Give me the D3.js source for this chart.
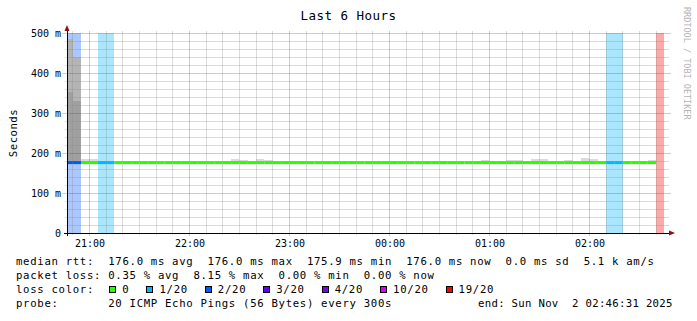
<!DOCTYPE html>
<html>
<head>
<meta charset="utf-8">
<script src="https://cdn.jsdelivr.net/npm/d3@7"></script>
<style>
  body { margin: 0; background: #fff; }
  svg { display: block; }
  text { font-family: "DejaVu Sans Mono", monospace; white-space: pre; }
</style>
</head>
<body>
<div id="chart"></div>
<script>

/*****************************************/
/*   DATA */
/*****************************************/

// 5 minute steps, start time of each step
let stepStarts = [
    "20:45", "20:50", "20:55",
    "21:00", "21:05", "21:10", "21:15", "21:20", "21:25", "21:30", "21:35", "21:40", "21:45", "21:50", "21:55",
    "22:00", "22:05", "22:10", "22:15", "22:20", "22:25", "22:30", "22:35", "22:40", "22:45", "22:50", "22:55",
    "23:00", "23:05", "23:10", "23:15", "23:20", "23:25", "23:30", "23:35", "23:40", "23:45", "23:50", "23:55",
    "00:00", "00:05", "00:10", "00:15", "00:20", "00:25", "00:30", "00:35", "00:40", "00:45", "00:50", "00:55",
    "01:00", "01:05", "01:10", "01:15", "01:20", "01:25", "01:30", "01:35", "01:40", "01:45", "01:50", "01:55",
    "02:00", "02:05", "02:10", "02:15", "02:20", "02:25", "02:30", "02:35", "02:40"
];

// median rtt (ms)
let medianMs = [
    176.0, 176.0, 176.0,
    176.0, 176.0, 176.0, 176.0, 176.0, 176.0, 176.0, 176.0, 176.0, 176.0, 176.0, 176.0,
    176.0, 176.0, 176.0, 176.0, 176.0, 176.0, 176.0, 176.0, 176.0, 176.0, 176.0, 176.0,
    176.0, 176.0, 176.0, 176.0, 176.0, 176.0, 176.0, 176.0, 176.0, 176.0, 176.0, 176.0,
    176.0, 176.0, 176.0, 176.0, 176.0, 176.0, 176.0, 176.0, 176.0, 176.0, 176.0, 176.0,
    176.0, 176.0, 176.0, 176.0, 176.0, 176.0, 176.0, 176.0, 176.0, 176.0, 176.0, 176.0,
    176.0, 176.0, 176.0, 176.0, 176.0, 176.0, 176.0, 176.0, null
];

// lost pings out of 20
let lossCount = [
    2, 2, 0,
    0, 1, 1, 0, 0, 0, 0, 0, 0, 0, 0, 0,
    0, 0, 0, 0, 0, 0, 0, 0, 0, 0, 0, 0,
    0, 0, 0, 0, 0, 0, 0, 0, 0, 0, 0, 0,
    0, 0, 0, 0, 0, 0, 0, 0, 0, 0, 0, 0,
    0, 0, 0, 0, 0, 0, 0, 0, 0, 0, 0, 0,
    0, 0, 1, 1, 0, 0, 0, 0, 19
];

// smoke: highest ping of the step (ms)
let smokeMaxMs = [
    485, 441, 186,
    184, 176, 176, 176, 176, 176, 176, 176, 176, 176, 176, 176,
    176, 176, 176, 176, 176, 185, 182.5, 176, 185, 182.5, 176, 176,
    176, 176, 176, 176, 176, 176, 176, 176, 176, 176, 176, 176,
    176, 176, 176, 176, 176, 176, 176, 176, 176, 176, 176, 182.5,
    176, 176, 182, 183, 176, 185, 184, 176, 176, 182.5, 176, 188,
    185, 176, 176, 176, 176, 176, 176, 182, null
];

// smoke: top of the mid grey band and of the dark grey band (ms), null = none
let smokeMidMs = [
    485, 441, null,
    null, null, null, null, null, null, null, null, null, null, null, null,
    null, null, null, null, null, null, null, null, null, null, null, null,
    null, null, null, null, null, null, null, null, null, null, null, null,
    null, null, null, null, null, null, null, null, null, null, null, null,
    null, null, null, null, null, null, null, null, null, null, null, null,
    null, null, null, null, null, null, null, null, null
];
let smokeDarkMs = [
    353, 330, null,
    null, null, null, null, null, null, null, null, null, null, null, null,
    null, null, null, null, null, null, null, null, null, null, null, null,
    null, null, null, null, null, null, null, null, null, null, null, null,
    null, null, null, null, null, null, null, null, null, null, null, null,
    null, null, null, null, null, null, null, null, null, null, null, null,
    null, null, null, null, null, null, null, null, null
];

let yTicks = [0, 100, 200, 300, 400, 500];

let lossLabels = ["0", "1/20", "2/20", "3/20", "4/20", "10/20", "19/20"];
let lossThresholds = [0, 1, 2, 3, 4, 10, 19];
let lossColors = ["#26ff00", "#00b8ff", "#0059ff", "#5e00ff", "#7e00ff", "#dd00ff", "#ff0000"];

let rttValues = ["176.0 ms avg", "176.0 ms max", "175.9 ms min", "176.0 ms now", "0.0 ms sd", "5.1 k am/s"];
let lossValues = ["0.35 % avg", "8.15 % max", "0.00 % min", "0.00 % now"];
let probeText = "20 ICMP Echo Pings (56 Bytes) every 300s";
let endText = "end: Sun Nov  2 02:46:31 2025";
let titleText = "Last 6 Hours";


/*****************************************/
/*   CHART AREA                          */
/*****************************************/

let width = 697, height = 321;
let plot = {left: 67, right: 667, top: 33, bottom: 233};
let stepMinutes = 5;

let svg = d3.select("#chart").append("svg")
    .attr("width", width)
    .attr("height", height)
    .style("background", "#ffffff");

let parseStep = s => {
    let [h, m] = s.split(":").map(Number);
    return new Date(2025, 10, h >= 12 ? 1 : 2, h, m, 0);
};

let tStart = new Date(2025, 10, 1, 20, 46, 31),
    tEnd = new Date(2025, 10, 2, 2, 46, 31);

let x = d3.scaleTime()
    .domain([tStart, tEnd])
    .range([plot.left, plot.right])
    .clamp(true);

let y = d3.scaleLinear()
    .domain([0, 500])
    .range([plot.bottom, plot.top]);

let lossColor = n => {
    let c = lossColors[0];
    lossThresholds.forEach((t, i) => { if (n >= t) c = lossColors[i]; });
    return c;
};

let steps = stepStarts.map((s, i) => ({
    t0: parseStep(s),
    t1: d3.timeMinute.offset(parseStep(s), stepMinutes),
    median: medianMs[i],
    loss: lossCount[i],
    max: smokeMaxMs[i],
    mid: smokeMidMs[i],
    dark: smokeDarkMs[i]
}));


// ---- LOSS BACKGROUND ----
svg.append("g").attr("class", "loss-bands")
    .selectAll("rect")
    .data(steps.filter(d => d.loss > 0))
    .enter()
    .append("rect")
    .attr("x", d => x(d.t0))
    .attr("width", d => x(d.t1) - x(d.t0))
    .attr("y", y(500))
    .attr("height", y(0) - y(500))
    .attr("fill", d => lossColor(d.loss))
    .attr("fill-opacity", 1 / 3)
    .attr("shape-rendering", "crispEdges");


// ---- SMOKE ----
let smoke = svg.append("g").attr("class", "smoke").attr("shape-rendering", "crispEdges");
let withMedian = steps.filter(d => d.median != null);

// light: outer pings
smoke.selectAll(".light")
    .data(withMedian.filter(d => d.max > (d.mid != null ? d.mid : d.median)))
    .enter().append("rect")
    .attr("class", "light")
    .attr("x", d => x(d.t0))
    .attr("width", d => x(d.t1) - x(d.t0))
    .attr("y", d => y(d.max))
    .attr("height", d => y(d.mid != null ? d.mid : d.median) - y(d.max))
    .attr("fill", "#dadada");

// mid grey
smoke.selectAll(".mid")
    .data(withMedian.filter(d => d.mid != null))
    .enter().append("rect")
    .attr("class", "mid")
    .attr("x", d => x(d.t0))
    .attr("width", d => x(d.t1) - x(d.t0))
    .attr("y", d => y(d.mid))
    .attr("height", d => y(d.dark != null ? d.dark : d.median) - y(d.mid))
    .attr("fill", "#b4b4b4");

// dark grey next to the median
smoke.selectAll(".dark")
    .data(withMedian.filter(d => d.dark != null))
    .enter().append("rect")
    .attr("class", "dark")
    .attr("x", d => x(d.t0))
    .attr("width", d => x(d.t1) - x(d.t0))
    .attr("y", d => y(d.dark))
    .attr("height", d => y(d.median) - y(d.dark))
    .attr("fill", "#a0a0a0");


// ---- GRID ----
let grid = svg.append("g").attr("class", "grid").attr("shape-rendering", "crispEdges");
let minorGrid = "rgba(140,140,140,0.32)",
    majorGrid = "rgba(255,0,0,0.28)";

grid.selectAll(".minor-y")
    .data(y.ticks(25).filter(v => yTicks.indexOf(v) < 0))
    .enter().append("line")
    .attr("x1", plot.left - 2).attr("x2", plot.right + 2)
    .attr("y1", d => y(d)).attr("y2", d => y(d))
    .attr("stroke", minorGrid);

grid.selectAll(".minor-x")
    .data(x.ticks(d3.timeMinute.every(10)).filter(t => t.getMinutes() !== 0))
    .enter().append("line")
    .attr("x1", d => x(d)).attr("x2", d => x(d))
    .attr("y1", plot.top - 2).attr("y2", plot.bottom + 2)
    .attr("stroke", minorGrid);

grid.selectAll(".major-y")
    .data(yTicks.filter(v => v > 0))
    .enter().append("line")
    .attr("x1", plot.left - 5).attr("x2", plot.right + 4)
    .attr("y1", d => y(d)).attr("y2", d => y(d))
    .attr("stroke", majorGrid);

grid.selectAll(".major-x")
    .data(x.ticks(d3.timeHour.every(1)))
    .enter().append("line")
    .attr("x1", d => x(d)).attr("x2", d => x(d))
    .attr("y1", plot.top - 2).attr("y2", plot.bottom + 3)
    .attr("stroke", majorGrid);


// ---- MEDIAN LINE ----
svg.append("g").attr("class", "median")
    .selectAll("line")
    .data(withMedian)
    .enter().append("line")
    .attr("x1", d => x(d.t0))
    .attr("x2", d => x(d.t1))
    .attr("y1", d => y(d.median))
    .attr("y2", d => y(d.median))
    .attr("stroke", d => lossColor(d.loss))
    .attr("stroke-width", 3);


// ---- AXES ----
let yAxis = d3.axisLeft(y)
    .tickValues(yTicks)
    .tickFormat(d => d === 0 ? "0" : d + " m")
    .tickSize(0)
    .tickPadding(6);

svg.append("g")
    .attr("class", "y-axis")
    .attr("transform", "translate(" + plot.left + ",0)")
    .call(yAxis)
    .call(g => g.select(".domain").remove())
    .attr("font-family", "DejaVu Sans Mono")
    .attr("font-size", 10)
    .selectAll("text").attr("dy", "0.38em").attr("fill", "#000");

let xAxis = d3.axisBottom(x)
    .ticks(d3.timeHour.every(1))
    .tickFormat(d3.timeFormat("%H:%M"))
    .tickSize(0)
    .tickPadding(7);

svg.append("g")
    .attr("class", "x-axis")
    .attr("transform", "translate(0," + plot.bottom + ")")
    .call(xAxis)
    .call(g => g.select(".domain").remove())
    .attr("font-family", "DejaVu Sans Mono")
    .attr("font-size", 10)
    .selectAll("text").attr("fill", "#000");

// axis lines + arrows
let axisLines = svg.append("g").attr("class", "axis-lines").attr("shape-rendering", "crispEdges");
axisLines.append("line")
    .attr("x1", plot.left).attr("x2", plot.left)
    .attr("y1", plot.bottom + 3).attr("y2", plot.top - 5)
    .attr("stroke", "#000");
axisLines.append("line")
    .attr("x1", plot.left - 3).attr("x2", plot.right + 4)
    .attr("y1", plot.bottom).attr("y2", plot.bottom)
    .attr("stroke", "#000");

svg.append("path")
    .attr("d", d3.line()([[plot.left - 2.5, plot.top - 2], [plot.left + 2.5, plot.top - 2], [plot.left, plot.top - 8]]) + "Z")
    .attr("fill", "#8b1010");
svg.append("path")
    .attr("d", d3.line()([[plot.right + 2, plot.bottom - 2.5], [plot.right + 2, plot.bottom + 2.5], [plot.right + 8, plot.bottom]]) + "Z")
    .attr("fill", "#8b1010");


// ---- TITLES ----
svg.append("text")
    .attr("x", width / 2)
    .attr("y", 20)
    .attr("text-anchor", "middle")
    .attr("font-size", 12.5)
    .attr("letter-spacing", 0.47)
    .attr("fill", "#000")
    .text(titleText);

svg.append("text")
    .attr("transform", "translate(17," + ((plot.top + plot.bottom) / 2) + ") rotate(-90)")
    .attr("text-anchor", "middle")
    .attr("font-size", 10.67)
    .attr("letter-spacing", 0.5)
    .attr("fill", "#000")
    .text("Seconds");

svg.append("text")
    .attr("transform", "translate(683.5,7) rotate(90)")
    .attr("font-size", 8.5)
    .attr("fill", "#b4b4b4")
    .text("RRDTOOL / TOBI OETIKER");


// ---- LEGEND ----
let legendX = 16, legendFont = 10.67, legendSpacing = 0.68;
let charW = 0.602 * legendFont + legendSpacing;

let legendLines = [
    "median rtt:  " + rttValues.join("  "),
    "packet loss: " + lossValues.join("  "),
    "loss color:",
    "probe:       " + probeText
];
let legendBaselines = [265, 279, 293.3, 307.3];

svg.append("g").attr("class", "legend-text")
    .selectAll("text")
    .data(legendLines)
    .enter().append("text")
    .attr("x", legendX)
    .attr("y", (d, i) => legendBaselines[i])
    .attr("font-size", legendFont)
    .attr("letter-spacing", legendSpacing)
    .attr("fill", "#000")
    .text(d => d);

svg.append("text")
    .attr("x", 478)
    .attr("y", legendBaselines[3])
    .attr("font-size", legendFont)
    .attr("letter-spacing", 0.3)
    .attr("fill", "#000")
    .text(endText);

let lossLegend = svg.append("g").attr("class", "loss-legend");
let bx = legendX + 13 * charW + 1;
lossLabels.forEach((lab, i) => {
    lossLegend.append("rect")
        .attr("x", Math.round(bx) + 0.5)
        .attr("y", 286.5)
        .attr("width", 6)
        .attr("height", 6)
        .attr("fill", lossColors[i])
        .attr("stroke", "#000");
    lossLegend.append("text")
        .attr("x", bx + 13)
        .attr("y", legendBaselines[2])
        .attr("font-size", legendFont)
        .attr("letter-spacing", legendSpacing)
        .attr("fill", "#000")
        .text(lab);
    bx += 13 + lab.length * charW + 17;
});

</script>
</body>
</html>
